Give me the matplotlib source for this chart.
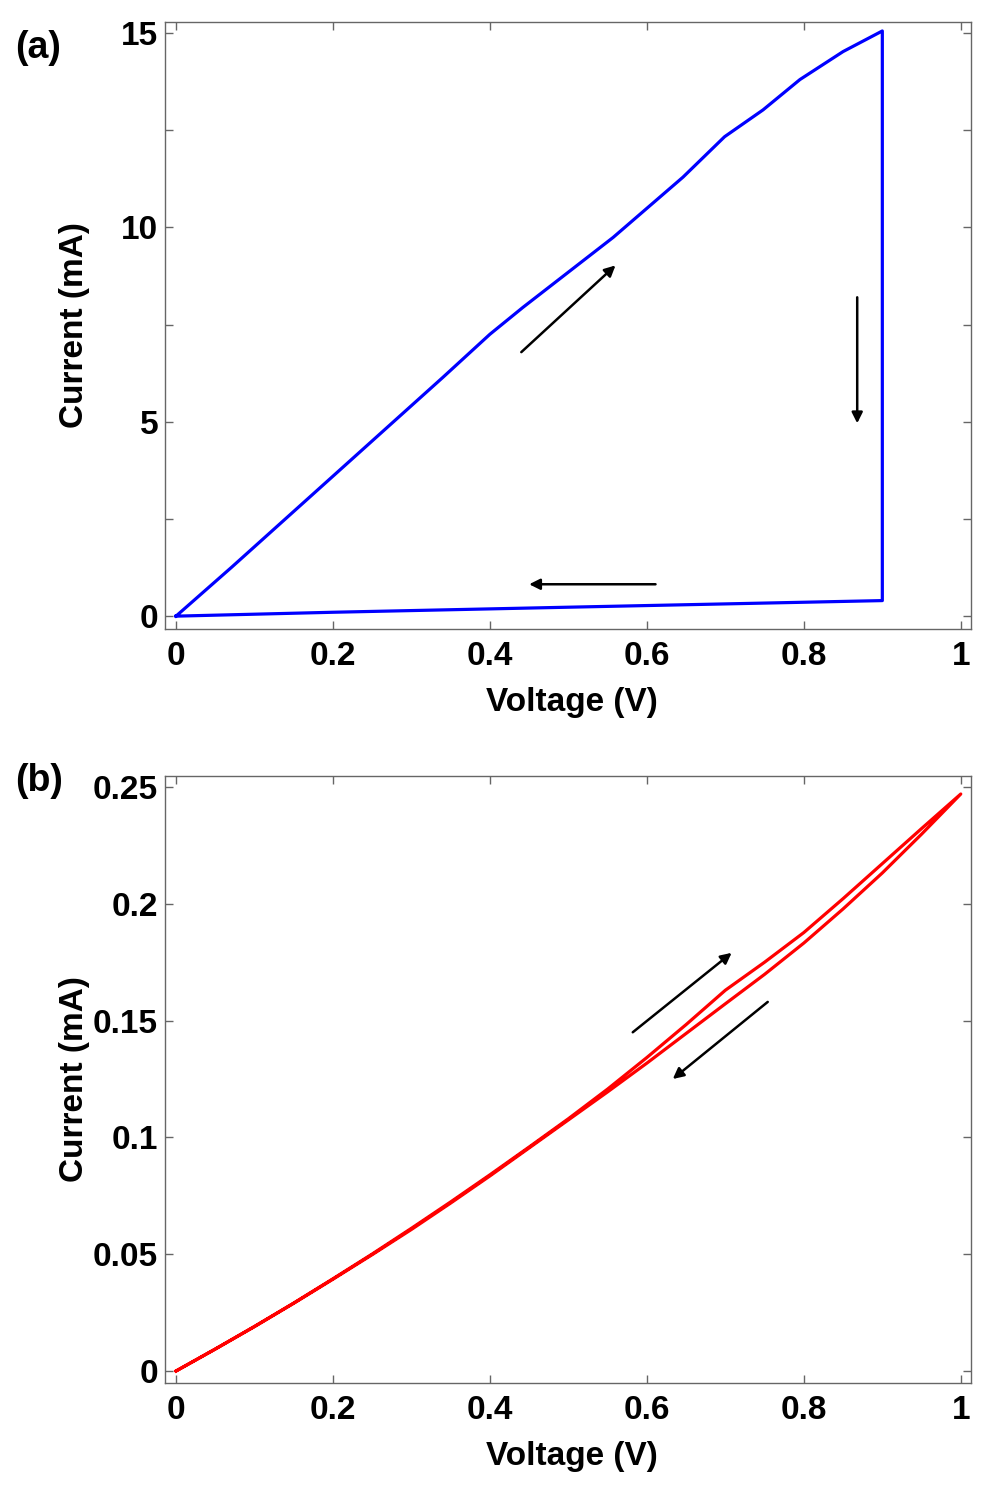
import matplotlib
matplotlib.use('Agg')
from matplotlib import pyplot as plt
import numpy as np

# ***** data *****
# (a) forward sweep, drop at 0.9 V, return sweep
a_fwd_v = [0, 0.071, 0.2, 0.34, 0.4, 0.442, 0.557, 0.646, 0.699, 0.748, 0.795, 0.85, 0.9]
a_fwd_i = [0, 1.26, 3.6, 6.14, 7.25, 7.94, 9.74, 11.29, 12.33, 13.02, 13.8, 14.52, 15.05]
a_ret_v = [0.9, 0.9, 0.5, 0.2, 0]
a_ret_i = [15.05, 0.4, 0.23, 0.1, 0]

# (b) forward and return sweep
b_fwd_v = [0, 0.05, 0.1, 0.15, 0.2, 0.25, 0.3, 0.35, 0.4, 0.45, 0.5, 0.55, 0.6, 0.65, 0.7, 0.75, 0.8, 0.85, 0.9, 0.95, 1.0]
b_fwd_i = [0, 0.0094, 0.0191, 0.0291, 0.0395, 0.0501, 0.0611, 0.0724, 0.084, 0.0959, 0.108, 0.1207, 0.1342, 0.1483, 0.163, 0.175, 0.1877, 0.2022, 0.2172, 0.2322, 0.247]
b_ret_v = [1.0, 0.95, 0.9, 0.85, 0.8, 0.75, 0.7, 0.65, 0.6, 0.55, 0.5, 0.45, 0.4, 0.35, 0.3, 0.25, 0.2, 0.15, 0.1, 0.05, 0]
b_ret_i = [0.247, 0.2298, 0.2132, 0.1978, 0.1832, 0.1698, 0.1572, 0.1445, 0.1318, 0.1195, 0.1075, 0.0955, 0.0835, 0.0719, 0.0606, 0.0498, 0.0393, 0.029, 0.019, 0.0094, 0]

x_ticks = [0, 0.2, 0.4, 0.6, 0.8, 1]
x_ticklabels = ['0', '0.2', '0.4', '0.6', '0.8', '1']
a_yticks = [0, 2.5, 5, 7.5, 10, 12.5, 15]
a_yticklabels = ['0', '', '5', '', '10', '', '15']
b_yticks = [0, 0.05, 0.1, 0.15, 0.2, 0.25]
b_yticklabels = ['0', '0.05', '0.1', '0.15', '0.2', '0.25']

# arrows: (tail, head)
a_arrows = [((0.44, 6.79), (0.56, 9.02)), ((0.868, 8.2), (0.868, 4.96)), ((0.611, 0.82), (0.45, 0.82))]
b_arrows = [((0.582, 0.145), (0.708, 0.179)), ((0.754, 0.158), (0.633, 0.125))]

plt.rcParams['font.family'] = ['Liberation Sans', 'DejaVu Sans']
plt.rcParams['font.weight'] = 'bold'

fig = plt.figure(figsize=[10.08, 14.88], dpi=100)
ax_a = fig.add_axes([0.1637, 0.5773, 0.7996, 0.4079])
ax_b = fig.add_axes([0.1637, 0.0706, 0.7996, 0.4079])


def style_axes(ax, yticks, yticklabels):
	ax.set_xticks(x_ticks)
	ax.set_xticklabels(x_ticklabels)
	ax.set_yticks(yticks)
	ax.set_yticklabels(yticklabels)
	ax.tick_params(direction='in', length=6, width=1, color='0.4', top=True, right=True,
		labelsize=24, labelcolor='black')
	ax.tick_params(axis='x', pad=9)
	ax.tick_params(axis='y', pad=5)
	for s in ax.spines.values():
		s.set_color('0.4')
		s.set_linewidth(1)
	ax.set_xlabel('Voltage (V)', fontsize=24, fontweight='bold')
	ax.set_ylabel('Current (mA)', fontsize=24, fontweight='bold')
	ax.xaxis.set_label_coords(0.505, -0.095)
	ax.yaxis.set_label_coords(-0.093, 0.5)


def draw_arrows(ax, arrows):
	for tail, head in arrows:
		ax.annotate('', xy=head, xytext=tail,
			arrowprops=dict(arrowstyle='-|>', color='black', lw=1.8, mutation_scale=16,
				shrinkA=0, shrinkB=0))


# ***** (a) *****
ax_a.plot(a_fwd_v + a_ret_v, a_fwd_i + a_ret_i, color='#0000ff', linewidth=2.3)
ax_a.set_xlim(-0.014, 1.013)
ax_a.set_ylim(-0.33, 15.28)
style_axes(ax_a, a_yticks, a_yticklabels)
draw_arrows(ax_a, a_arrows)

# ***** (b) *****
ax_b.plot(b_fwd_v + b_ret_v, b_fwd_i + b_ret_i, color='#ff0000', linewidth=2.3)
ax_b.set_xlim(-0.014, 1.013)
ax_b.set_ylim(-0.0051, 0.2547)
style_axes(ax_b, b_yticks, b_yticklabels)
draw_arrows(ax_b, b_arrows)

fig.text(15 / 1008, 1 - 48 / 1488, '(a)', fontsize=27, fontweight='bold', va='center', ha='left')
fig.text(15 / 1008, 1 - 781 / 1488, '(b)', fontsize=27, fontweight='bold', va='center', ha='left')

plt.savefig('out.png', dpi=100)
plt.close()
